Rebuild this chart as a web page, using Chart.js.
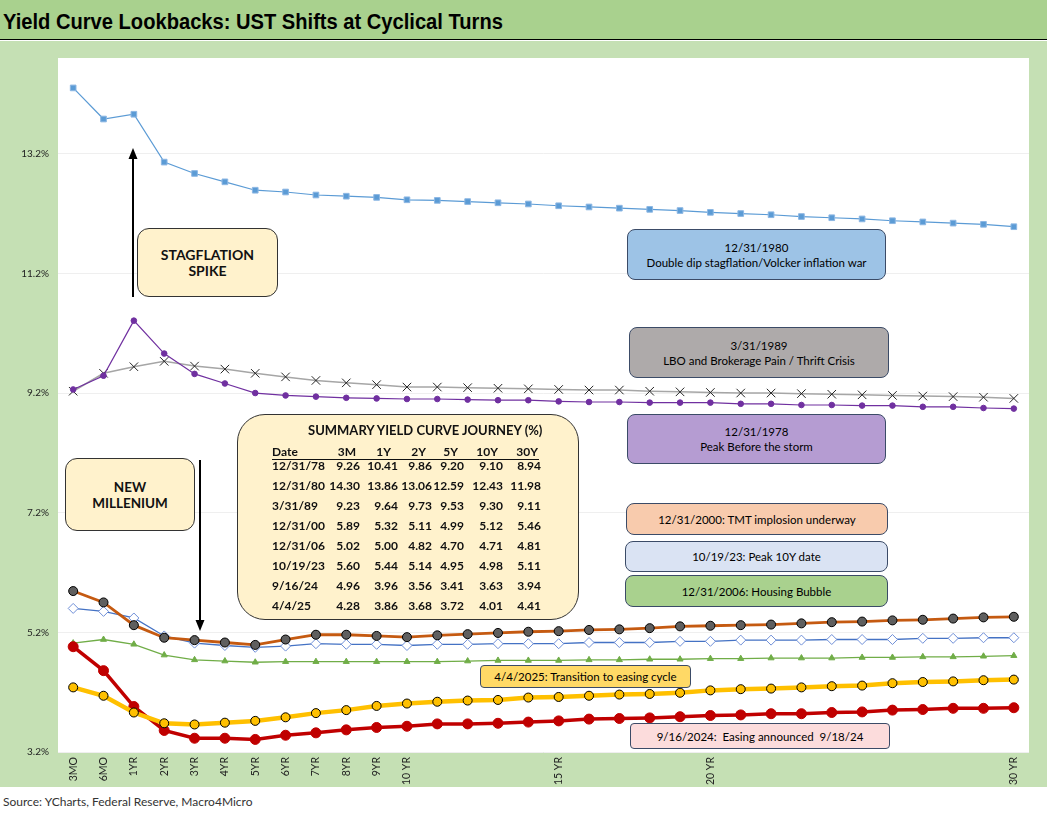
<!DOCTYPE html>
<html>
<head>
<meta charset="utf-8">
<script src="https://cdn.jsdelivr.net/npm/chart.js@4.4.1/dist/chart.umd.min.js"></script>
<style>
  html, body { margin:0; padding:0; background:#fff; }
  body { width:1051px; height:816px; position:relative; overflow:hidden; font-family: Lato, "Noto Sans", sans-serif; }
  #titlebar { position:absolute; left:0; top:0; width:1047px; height:39px; background:#a9d18e; border-bottom:1.5px solid #000; }
  #title { position:absolute; left:3px; top:7px; font-family:"Liberation Sans Narrow", "Liberation Sans", sans-serif; font-weight:bold; font-size:22.5px; color:#000; white-space:nowrap; transform-origin:left center; line-height:30px; }
  #panel { position:absolute; left:0; top:41px; width:1047px; height:746px; background:#c5e0b4; }
  #source { position:absolute; left:3px; top:794px; font-size:12px; color:#333; white-space:nowrap; }
  .box { position:absolute; box-sizing:border-box; border:1px solid #3b4b67; border-radius:8px; display:flex; flex-direction:column; justify-content:center; align-items:center; text-align:center; font-size:11.5px; line-height:15px; color:#000; white-space:pre; }
  .ybox { position:absolute; box-sizing:border-box; border:1px solid #333; background:#fff2cc; display:flex; flex-direction:column; justify-content:center; align-items:center; font-weight:bold; font-size:14px; line-height:16px; color:#111; }
  .cell { position:absolute; font-weight:bold; font-size:12px; line-height:16px; height:16px; color:#111; white-space:nowrap; }
  svg { position:absolute; left:0; top:0; }
</style>
</head>
<body>
<div id="titlebar"><div id="title">Yield Curve Lookbacks: UST Shifts at Cyclical Turns</div></div>
<div id="panel"><canvas id="c" width="1047" height="746"></canvas></div>
<div id="source">Source: YCharts, Federal Reserve, Macro4Micro</div>
<div id="overlay"></div>
<svg width="1051" height="816" id="arrows">
  <line x1="133" y1="297" x2="133" y2="158" stroke="#000" stroke-width="2"/>
  <polygon points="133,148 128.5,159 137.5,159" fill="#000"/>
  <line x1="200" y1="460" x2="200" y2="620" stroke="#000" stroke-width="2"/>
  <polygon points="200,631 195.5,620 204.5,620" fill="#000"/>
</svg>
<script>
// ---------- data ----------
const tenors = ['3MO','6MO','1YR','2YR','3YR','4YR','5YR','6YR','7YR','8YR','9YR','10 YR',
  '','','','','15 YR','','','','','20 YR','','','','','','','','','','30 YR'];
const yTicks = [3.2, 5.2, 7.2, 9.2, 11.2, 13.2];

const y1980 = [14.30,13.78,13.86,13.06,12.87,12.73,12.59,12.56,12.51,12.49,12.47,12.43,
  12.42,12.40,12.38,12.36,12.33,12.31,12.29,12.27,12.25,12.22,12.20,12.18,12.15,12.13,12.11,12.08,12.06,12.04,12.02,11.98];
const y1978 = [9.26,9.49,10.41,9.86,9.52,9.36,9.20,9.16,9.14,9.12,9.11,9.10,
  9.10,9.09,9.08,9.08,9.06,9.05,9.05,9.04,9.04,9.04,9.02,9.02,9.00,9.00,8.99,8.99,8.97,8.97,8.95,8.94];
const y1989 = [9.23,9.53,9.64,9.73,9.65,9.60,9.53,9.47,9.41,9.37,9.34,9.30,
  9.30,9.29,9.28,9.27,9.26,9.25,9.25,9.23,9.22,9.21,9.20,9.20,9.19,9.18,9.17,9.16,9.15,9.14,9.13,9.11];
const y2000 = [5.89,5.70,5.32,5.11,5.07,5.03,4.99,5.08,5.16,5.16,5.14,5.12,
  5.15,5.17,5.19,5.21,5.22,5.24,5.25,5.27,5.30,5.31,5.32,5.33,5.35,5.37,5.38,5.40,5.41,5.43,5.45,5.46];
const y2023 = [5.60,5.55,5.44,5.14,5.02,4.98,4.95,4.97,5.01,5.00,5.00,4.98,
  5.00,5.00,5.01,5.01,5.01,5.03,5.03,5.03,5.05,5.05,5.07,5.07,5.07,5.08,5.08,5.08,5.10,5.10,5.11,5.11];
const y2006 = [5.02,5.08,5.00,4.82,4.74,4.72,4.70,4.71,4.71,4.71,4.71,4.71,
  4.71,4.72,4.73,4.73,4.73,4.74,4.74,4.75,4.75,4.76,4.76,4.77,4.77,4.77,4.78,4.78,4.79,4.79,4.80,4.81];
const y2025 = [4.28,4.14,3.86,3.68,3.66,3.69,3.72,3.78,3.85,3.90,3.97,4.01,
  4.04,4.06,4.07,4.11,4.12,4.14,4.16,4.17,4.19,4.23,4.25,4.26,4.28,4.30,4.31,4.35,4.37,4.38,4.40,4.41];
const y2024 = [4.96,4.56,3.96,3.56,3.43,3.43,3.41,3.48,3.52,3.57,3.61,3.63,
  3.67,3.67,3.68,3.70,3.72,3.75,3.76,3.77,3.79,3.81,3.82,3.84,3.84,3.86,3.87,3.90,3.91,3.93,3.93,3.94];

// summary table
const tableTitle = 'SUMMARY YIELD CURVE JOURNEY (%)';
const tableHeaders = ['3M','1Y','2Y','5Y','10Y','30Y'];
const tableDates = ['12/31/78','12/31/80','3/31/89','12/31/00','12/31/06','10/19/23','9/16/24','4/4/25'];
const tableValues = [
  ['9.26','10.41','9.86','9.20','9.10','8.94'],
  ['14.30','13.86','13.06','12.59','12.43','11.98'],
  ['9.23','9.64','9.73','9.53','9.30','9.11'],
  ['5.89','5.32','5.11','4.99','5.12','5.46'],
  ['5.02','5.00','4.82','4.70','4.71','4.81'],
  ['5.60','5.44','5.14','4.95','4.98','5.11'],
  ['4.96','3.96','3.56','3.41','3.63','3.94'],
  ['4.28','3.86','3.68','3.72','4.01','4.41']
];

// ---------- overlays ----------
const ov = document.getElementById('overlay');
function addBox(cls, x, y, w, h, lines, style) {
  const d = document.createElement('div');
  d.className = cls;
  Object.assign(d.style, {left:x+'px', top:y+'px', width:w+'px', height:h+'px'}, style||{});
  lines.forEach(t => { const s = document.createElement('div'); s.textContent = t; d.appendChild(s); });
  ov.appendChild(d);
  return d;
}
addBox('ybox', 137, 228, 141, 69, ['STAGFLATION','SPIKE'], {borderRadius:'12px'});
addBox('ybox', 65, 458, 130, 73, ['NEW','MILLENIUM'], {borderRadius:'12px', fontSize:'13.5px'});

addBox('box', 627, 229, 259, 51, ['12/31/1980','Double dip stagflation/Volcker inflation war'], {background:'#9dc3e6'});
addBox('box', 629, 327, 260, 51, ['3/31/1989','LBO and Brokerage Pain / Thrift Crisis'], {background:'#aeaaaa'});
addBox('box', 627, 414, 259, 50, ['12/31/1978','Peak Before the storm'], {background:'#b59cd2'});
addBox('box', 626, 503, 262, 32, ['12/31/2000: TMT implosion underway'], {background:'#f8cbad'});
addBox('box', 625, 541, 263, 31, ['10/19/23: Peak 10Y date'], {background:'#dae3f3'});
addBox('box', 625, 575, 263, 32, ['12/31/2006: Housing Bubble'], {background:'#a9d18e'});
addBox('box', 480, 665, 211, 23, ['4/4/2025: Transition to easing cycle'], {background:'#ffd966', borderRadius:'4px'});
addBox('box', 630, 723, 260, 26, ['9/16/2024:  Easing announced  9/18/24'], {background:'#fcdcdc', borderRadius:'4px'});

// summary table box
const tb = document.createElement('div');
Object.assign(tb.style, {position:'absolute', left:'237px', top:'414px', width:'342px', height:'206px',
  boxSizing:'border-box', border:'1px solid #333', borderRadius:'28px', background:'#fff2cc'});
ov.appendChild(tb);
function cell(text, x, yc, align, extra) {
  const s = document.createElement('div');
  s.className = 'cell';
  s.textContent = text;
  s.style.top = (yc - 8) + 'px';
  if (align === 'right') { s.style.right = (1051 - x) + 'px'; }
  else if (align === 'center') { s.style.left = (x - 100) + 'px'; s.style.width = '200px'; s.style.textAlign = 'center'; }
  else { s.style.left = x + 'px'; }
  Object.assign(s.style, extra || {});
  ov.appendChild(s);
}
cell(tableTitle, 408, 430, 'center', {fontSize:'13px'});
const hdrRight = [356, 391, 426, 458, 498, 538];
const colRight = [360, 398, 432, 464, 503, 541];
cell('Date', 272, 452, 'left');
tableHeaders.forEach((h, i) => cell(h, hdrRight[i], 452, 'right'));
const ul = document.createElement('div');
Object.assign(ul.style, {position:'absolute', left:'272px', top:'459px', width:'267px', height:'1px', background:'#111'});
ov.appendChild(ul);
tableDates.forEach((d, r) => {
  const yc = 466 + r * 20;
  cell(d, 272, yc, 'left');
  tableValues[r].forEach((v, i) => cell(v, colRight[i], yc, 'right'));
});

// title fit
const t = document.getElementById('title');
const tw = t.scrollWidth;
if (tw > 0) t.style.transform = 'scaleX(' + (500 / tw) + ')';

// ---------- chart ----------
const whiteArea = {
  id: 'whiteArea',
  beforeDraw(chart) {
    const {ctx, chartArea: a} = chart;
    ctx.save();
    ctx.fillStyle = '#fff';
    ctx.fillRect(a.left, a.top, a.right - a.left, a.bottom - a.top);
    ctx.restore();
  }
};

function ds(label, data, o) {
  return Object.assign({label, data, tension:0, fill:false}, o);
}

new Chart(document.getElementById('c'), {
  type: 'line',
  data: {
    labels: tenors,
    datasets: [
      ds('4/4/25', y2025, {borderColor:'#ffc000', borderWidth:4.5, pointStyle:'circle', pointRadius:4.5, pointBackgroundColor:'#ffc000', pointBorderColor:'#000', pointBorderWidth:1}),
      ds('9/16/24', y2024, {borderColor:'#c00000', borderWidth:3.5, pointStyle:'circle', pointRadius:5, pointBackgroundColor:'#c00000', pointBorderColor:'#c00000', pointBorderWidth:1}),
      ds('12/31/00', y2000, {borderColor:'#c55a11', borderWidth:2.8, pointStyle:'circle', pointRadius:4.5, pointBackgroundColor:'#5f5f5f', pointBorderColor:'#000', pointBorderWidth:1}),
      ds('10/19/23', y2023, {borderColor:'#4472c4', borderWidth:1.3, pointStyle:'rectRot', pointRadius:5, pointBackgroundColor:'#fff', pointBorderColor:'#6f8fd8', pointBorderWidth:1}),
      ds('12/31/06', y2006, {borderColor:'#70ad47', borderWidth:1.3, pointStyle:'triangle', pointRadius:3.5, pointBackgroundColor:'#70ad47', pointBorderColor:'#70ad47', pointBorderWidth:1}),
      ds('12/31/78', y1978, {borderColor:'#7030a0', borderWidth:1.2, pointStyle:'circle', pointRadius:2.8, pointBackgroundColor:'#7030a0', pointBorderColor:'#7030a0', pointBorderWidth:1}),
      ds('3/31/89', y1989, {borderColor:'#a6a6a6', borderWidth:1.5, pointStyle:'crossRot', pointRadius:6, pointBackgroundColor:'#262626', pointBorderColor:'#262626', pointBorderWidth:1}),
      ds('12/31/80', y1980, {borderColor:'#5b9bd5', borderWidth:1.2, pointStyle:'rect', pointRadius:4, pointBackgroundColor:'#5b9bd5', pointBorderColor:'#8db7e3', pointBorderWidth:1})
    ]
  },
  options: {
    responsive: false,
    animation: false,
    devicePixelRatio: 1,
    layout: { padding: { top: 17, right: 18, left: 0, bottom: 0 } },
    plugins: { legend: { display: false }, tooltip: { enabled: false } },
    scales: {
      x: {
        type: 'category',
        offset: true,
        grid: { display: false, drawTicks: false },
        border: { display: false },
        ticks: { autoSkip: false, maxRotation: 90, minRotation: 90, padding: 5, color: '#222', font: { family: 'Lato', size: 10.5 } },
        afterFit(s) { s.height = 35; }
      },
      y: {
        min: 3.2, max: 14.8,
        grid: { color: '#efefef', lineWidth: 1, drawTicks: false },
        border: { display: false },
        afterBuildTicks(s) { s.ticks = yTicks.map(v => ({ value: v })); },
        ticks: { padding: 9, color: '#222', font: { family: 'Lato', size: 10 }, callback: v => Number(v).toFixed(1) + '%' },
        afterFit(s) { s.width = 58; }
      }
    }
  },
  plugins: [whiteArea]
});
</script>
</body>
</html>
